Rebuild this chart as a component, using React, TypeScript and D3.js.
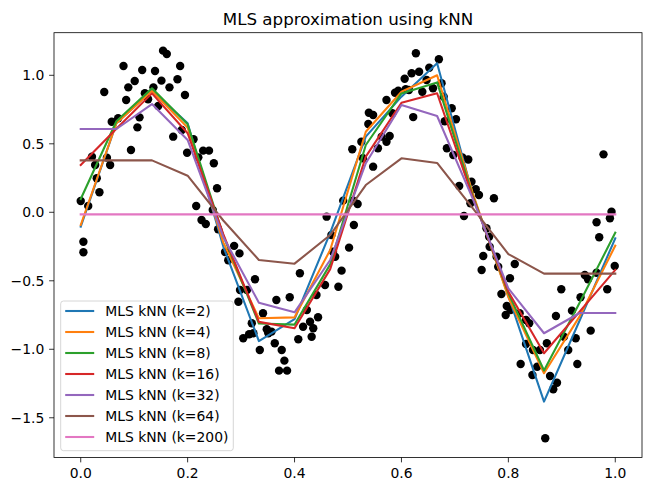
import React from "react";
import * as d3 from "d3";

const title = "MLS approximation using kNN";

const gridX = [0, 0.0667, 0.1333, 0.2, 0.2667, 0.3333, 0.4, 0.4667, 0.5333, 0.6, 0.6667, 0.7333, 0.8, 0.8667, 0.9333, 1.0];

const k2 = [-0.105, 0.65, 0.89, 0.65, -0.25, -0.94, -0.78, -0.15, 0.552, 0.844, 1.088, 0.13, -0.61, -1.382, -0.79, -0.19];
const k4 = [-0.093, 0.65, 0.885, 0.618, -0.22, -0.774, -0.767, -0.275, 0.588, 0.88, 1.0, 0.14, -0.62, -1.175, -0.76, -0.244];
const k8 = [0.097, 0.665, 0.905, 0.642, -0.17, -0.812, -0.82, -0.38, 0.491, 0.868, 0.948, 0.12, -0.59, -1.155, -0.66, -0.149];
const k16 = [0.345, 0.61, 0.868, 0.577, -0.16, -0.8, -0.847, -0.415, 0.406, 0.8, 0.869, 0.11, -0.58, -1.029, -0.725, -0.421];
const k32 = [0.608, 0.608, 0.79, 0.528, -0.18, -0.66, -0.73, -0.348, 0.358, 0.783, 0.703, 0.1, -0.555, -0.883, -0.735, -0.735];
const k64 = [0.379, 0.379, 0.379, 0.267, -0.06, -0.348, -0.375, -0.166, 0.199, 0.394, 0.36, 0.03, -0.305, -0.448, -0.448, -0.448];
const k200 = [-0.015, -0.015, -0.015, -0.015, -0.015, -0.015, -0.015, -0.015, -0.015, -0.015, -0.015, -0.015, -0.015, -0.015, -0.015, -0.015];

const seriesNames = ["MLS kNN (k=2)", "MLS kNN (k=4)", "MLS kNN (k=8)", "MLS kNN (k=16)", "MLS kNN (k=32)", "MLS kNN (k=64)", "MLS kNN (k=200)"];
const seriesValues = [k2, k4, k8, k16, k32, k64, k200];
const seriesColors = ["#1f77b4", "#ff7f0e", "#2ca02c", "#d62728", "#9467bd", "#8c564b", "#e377c2"];

const pointsX = [
  0.000, 0.014, 0.005, 0.005, 0.044, 0.021, 0.027, 0.049, 0.055, 0.030, 0.035, 0.058, 0.070, 0.080, 0.089, 0.101, 0.085, 0.094, 0.106, 0.110,
  0.115, 0.120, 0.126, 0.139, 0.136, 0.145, 0.151, 0.154, 0.161, 0.166, 0.181, 0.186, 0.195, 0.173, 0.189, 0.211, 0.199, 0.229, 0.240, 0.220,
  0.249, 0.255, 0.216, 0.226, 0.234, 0.247, 0.257,
  0.270, 0.276, 0.287, 0.297, 0.298, 0.311, 0.295, 0.326, 0.320, 0.323, 0.304, 0.315, 0.335, 0.341, 0.351, 0.357, 0.348, 0.363, 0.376, 0.381,
  0.371, 0.386, 0.366, 0.391, 0.410, 0.423, 0.416, 0.429, 0.435, 0.432, 0.407, 0.444, 0.441, 0.457, 0.482, 0.488, 0.476, 0.472, 0.469, 0.502,
  0.511, 0.460, 0.491, 0.510, 0.518,
  0.508, 0.525, 0.539, 0.547, 0.538, 0.528, 0.547, 0.556, 0.563, 0.578, 0.572, 0.572, 0.583, 0.588, 0.594, 0.606, 0.619, 0.633, 0.622, 0.608,
  0.614, 0.627, 0.639, 0.652, 0.647, 0.659, 0.670,
  0.675, 0.679, 0.694, 0.702, 0.681, 0.685, 0.697, 0.714, 0.725, 0.708, 0.731, 0.739, 0.745, 0.729, 0.773, 0.717, 0.759, 0.764, 0.765,
  0.753, 0.750, 0.778, 0.781, 0.812, 0.803, 0.787, 0.797, 0.795, 0.804, 0.821, 0.833, 0.839, 0.833, 0.846, 0.859, 0.872, 0.823, 0.845, 0.854,
  0.878, 0.891, 0.884, 0.869, 0.889, 0.899, 0.919, 0.904, 0.926, 0.912, 0.929, 0.935, 0.954, 0.943, 0.949, 0.965, 0.985, 0.999, 0.978, 0.993,
  0.990, 0.965, 0.970,
];
const pointsY = [
  0.082, 0.046, -0.215, -0.292, 0.878, 0.406, 0.345, 0.399, 0.345, 0.248, 0.146, 0.661, 0.686, 1.068, 0.912, 0.958, 0.820, 0.455, 0.620, 0.693,
  1.039, 0.869, 0.825, 1.031, 0.912, 0.776, 0.961, 1.180, 1.155, 0.912, 0.971, 1.068, 0.856, 0.552, 0.601, 0.533, 0.435, 0.450, 0.450, 0.401,
  0.358, 0.175, 0.046, -0.056, -0.085, 0.017, -0.124,
  -0.29, -0.35, -0.245, -0.30, -0.567, -0.567, -0.653, -0.489, -0.81, -0.883, -0.92, -0.89, -1.005, -0.737, -0.883, -0.871, -0.854, -0.956, -1.005, -1.083,
  -1.156, -1.156, -0.64, -0.62, -0.445, -0.713, -0.835, -0.799, -0.847, -0.908, -0.927, -0.766, -0.604, -0.531, -0.543, -0.426, -0.324, -0.288, -0.166, -0.258,
  -0.093, -0.032, 0.085, 0.085, 0.06,
  0.46, 0.515, 0.727, 0.71, 0.645, 0.394, 0.333, 0.467, 0.552, 0.557, 0.515, 0.82, 0.723, 0.873, 0.888, 0.975, 1.015, 1.026, 0.695, 0.898,
  0.893, 1.161, 0.88, 1.055, 0.966, 0.905, 1.117,
  0.942, 0.844, 0.759, 0.679, 0.665, 0.467, 0.418, 0.4, 0.385, 0.192, 0.223, 0.168, 0.126, 0.066, 0.102, -0.027, -0.117, -0.178, -0.251,
  -0.319, -0.421, -0.324, -0.397, -0.377, -0.482, -0.596, -0.684, -0.75, -0.713, -0.737, -0.786, -0.81, -0.961, -1.005, -1.005, -0.956, -1.107, -1.188, -1.127,
  -1.195, -1.244, -1.292, -1.65, -0.757, -0.562, -0.718, -0.908, -0.92, -1.005, -1.107, -0.62, -0.864, -0.458, -0.489, -0.441, -0.562, -0.392, 0.423, 0.004,
  -0.044, -0.073, -0.182,
];

const xTicks = [0, 0.2, 0.4, 0.6, 0.8, 1.0];
const yTicks = [-1.5, -1.0, -0.5, 0, 0.5, 1.0];

const W = 651, H = 491;
const L = 54, R = 642, T = 32.7, B = 457.5;
const FONT = "'DejaVu Sans', sans-serif";

const fmt = (v: number) => (v < 0 ? "\u2212" : "") + Math.abs(v).toFixed(1);

export default function App() {
  const x = d3.scaleLinear().domain([-0.05, 1.05]).range([L, R]);
  const y = d3.scaleLinear().domain([-1.79, 1.311]).range([B, T]);
  const line = d3.line<number>().x((_, i) => x(gridX[i])).y((d) => y(d));

  const legX = 60.7, legY = 301, legW = 172.6, legH = 149.7;
  const rowH = 21.0;

  return (
    <svg width={W} height={H} style={{ position: "absolute", left: 0, top: 0, background: "#fff" }} fontFamily={FONT}>
      <rect x={0} y={0} width={W} height={H} fill="#fff" />
      <text x={(L + R) / 2} y={24.5} textAnchor="middle" fontSize={16.7} fill="#000">{title}</text>
      <defs>
        <clipPath id="plotclip">
          <rect x={L} y={T} width={R - L} height={B - T} />
        </clipPath>
      </defs>
      <g clipPath="url(#plotclip)">
        {pointsX.map((px, i) => (
          <circle key={i} cx={x(px)} cy={y(pointsY[i])} r={4.2} fill="#000" />
        ))}
        {seriesValues.map((vals, si) => (
          <path key={si} d={line(vals) || ""} fill="none" stroke={seriesColors[si]} strokeWidth={2.08} strokeLinejoin="round" strokeLinecap="square" />
        ))}
      </g>
      <rect x={L} y={T} width={R - L} height={B - T} fill="none" stroke="#000" strokeWidth={0.8} />
      {xTicks.map((t) => (
        <g key={"x" + t}>
          <line x1={x(t)} x2={x(t)} y1={B} y2={B + 4.86} stroke="#000" strokeWidth={0.8} />
          <text x={x(t)} y={B + 20.5} textAnchor="middle" fontSize={13.9} fill="#000">{fmt(t)}</text>
        </g>
      ))}
      {yTicks.map((t) => (
        <g key={"y" + t}>
          <line x1={L - 4.86} x2={L} y1={y(t)} y2={y(t)} stroke="#000" strokeWidth={0.8} />
          <text x={L - 9.7} y={y(t)} dy="0.35em" textAnchor="end" fontSize={13.9} fill="#000">{fmt(t)}</text>
        </g>
      ))}
      <rect x={legX} y={legY} width={legW} height={legH} rx={2.8} ry={2.8} fill="#fff" fillOpacity={0.8} stroke="#cccccc" strokeWidth={0.8} />
      {seriesNames.map((name, i) => {
        const cy = legY + 10 + rowH * i;
        return (
          <g key={name}>
            <line x1={legX + 4.5} x2={legX + 33.5} y1={cy} y2={cy} stroke={seriesColors[i]} strokeWidth={2.08} />
            <text x={legX + 44.5} y={cy} dy="0.35em" fontSize={13.9} fill="#000">{name}</text>
          </g>
        );
      })}
    </svg>
  );
}
